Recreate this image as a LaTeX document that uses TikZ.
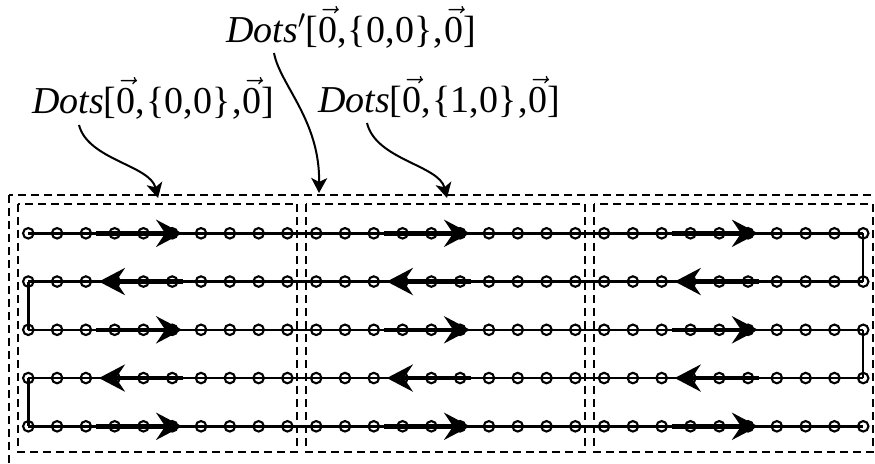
\RequirePackage{fix-cm}
\documentclass[tikz,border=0pt]{standalone}
\usepackage{fontspec}
\setmainfont{Liberation Serif}
\usetikzlibrary{arrows.meta}
\newcommand\vz{$\vec{\hbox{0}}$}
\newcommand\cm{,\kern1pt}
\tikzset{
  dot/.style={circle, draw, line width=2.1pt, minimum size=10.5pt, inner sep=0pt},
  gridline/.style={line width=2.4pt},
  flowarrow/.style={line width=4.6pt, -{Stealth[length=26pt,width=27pt,inset=9pt]}},
  boxline/.style={line width=2pt, dash pattern=on 8pt off 5pt},
  lbl/.style={font=\fontsize{38}{41}\selectfont, inner sep=0pt, anchor=base west},
  pointer/.style={line width=2pt, -{Stealth[length=15pt,width=16pt,inset=4pt]}}
}
\begin{document}
\begin{tikzpicture}[x=1pt,y=-1pt]
\useasboundingbox (0,0) rectangle (875,463);
\clip (0,0) rectangle (875,463);
% dots
\foreach \r in {0,...,4}{
  \foreach \k in {0,...,29}{
    \node[dot] (d\r-\k) at ({28.3+28.79*\k},{233.3+48.25*\r}) {};
  }
}
% row lines
\foreach \r in {0,...,4}{
  \draw[gridline] (d\r-0.center) -- (d\r-29.center);
}
\draw[gridline] (d0-29.center) -- (d1-29.center);
\draw[gridline] (d2-29.center) -- (d3-29.center);
\draw[gridline] (d1-0.center) -- (d2-0.center);
\draw[gridline] (d3-0.center) -- (d4-0.center);
% flow arrows
\foreach \b in {0,1,2}{
  \pgfmathtruncatemacro\ia{10*\b+2}
  \pgfmathtruncatemacro\ib{10*\b+5}
  \foreach \r in {0,2,4}{
    \draw[flowarrow] ([xshift=10pt]d\r-\ia.center) -- ([xshift=10pt]d\r-\ib.center);
  }
  \foreach \r in {1,3}{
    \draw[flowarrow] ([xshift=11pt]d\r-\ib.center) -- ([xshift=13pt]d\r-\ia.center);
  }
}
% boxes
\draw[boxline] (9,195) rectangle (880,470);
\foreach \b in {0,1,2}{
  \pgfmathsetmacro\xl{28.3+28.79*10*\b-10}
  \pgfmathsetmacro\xr{28.3+28.79*(10*\b+9)+10}
  \draw[boxline] (\xl,204) rectangle (\xr,452);
}
% labels
\node[lbl] (l1) at (32,113) {\textit{Dots}[\vz\cm\{0\cm0\}\kern1pt\cm\vz]};
\node[lbl] (l2) at (226,42) {\textit{Dots}$'$[\vz\cm\{0\cm0\}\kern1pt\cm\vz]};
\node[lbl] (l3) at (318,112) {\textit{Dots}[\vz\cm\{1\cm0\}\kern1pt\cm\vz]};
\coordinate (s1) at (79,125);
\coordinate (t1) at (158,198);
\coordinate (s2) at (274,53);
\coordinate (t2) at (319,193);
\coordinate (s3) at (367,123);
\coordinate (t3) at (447,198);
\draw[pointer] (s1) .. controls (88,160) and (150,165) .. (t1);
\draw[pointer] (s2) .. controls (280,85) and (320,120) .. (t2);
\draw[pointer] (s3) .. controls (376,160) and (439,165) .. (t3);
\end{tikzpicture}
\end{document}
